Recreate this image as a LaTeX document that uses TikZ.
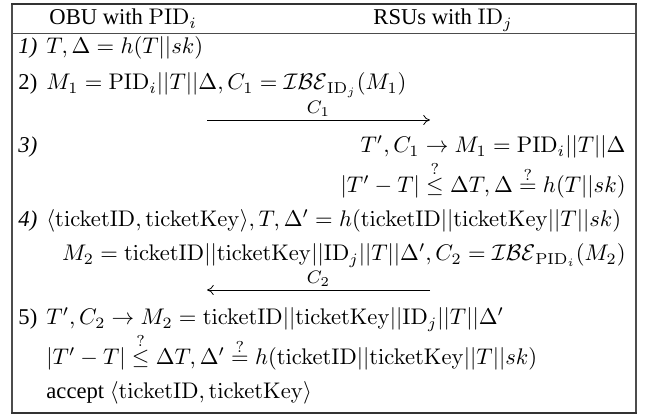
\documentclass[tikz,border=0pt]{standalone}
\usepackage{amsmath}
\usepackage[no-math]{fontspec}
\setmainfont{Liberation Serif}
\usetikzlibrary{arrows.meta}

\tikzset{
  lstep/.style={anchor=base west},
  rstep/.style={anchor=base east},
  msg/.style={-{To[length=3pt,width=4.5pt]}, line width=0.35pt},
  msglabel/.style={font=\footnotesize, above=1.5pt},
  frameline/.style={draw=black!80, line width=0.9pt},
  sideline/.style={draw=black!70, line width=0.6pt}
}

\begin{document}
\begin{tikzpicture}[x=0.4425pt,y=-0.4425pt,every node/.style={inner sep=0pt}]
			\useasboundingbox (0,0) rectangle (645,416);
			\fill[white] (0,0) rectangle (645,416);
			
			% frame of the table
			\draw[sideline] (12,4) -- (12,413);
			\draw[sideline] (636,4) -- (636,413);
			\draw[frameline] (11,4) -- (637,4);
			\draw[frameline] (11,413) -- (637,413);
			\draw[sideline,line width=0.45pt] (12,34) -- (636,34);
			
			% header
			\node[lstep] (obu) at (49,25) {OBU with $\mathrm{PID}_i$};
			\node[lstep] (rsu) at (373,25) {RSUs with $\mathrm{ID}_j$};
			
			% step 1 and 2
			\node[lstep] (n1) at (18,54) {\textit{1)}};
			\node[lstep] (s1) at (46,54) {$T,\Delta=h(T||sk)$};
			\node[lstep] (n2) at (18,90) {2)};
			\node[lstep] (s2) at (46,90) {$M_1=\mathrm{PID}_i||T||\Delta,C_1=\mathcal{IBE}_{\mathrm{ID}_j}(M_1)$};
			
			\coordinate (m1a) at (207,120);
			\coordinate (m1b) at (430,120);
			\draw[msg] (m1a) -- (m1b) node[midway,msglabel] (c1) {$C_1$};
			
			% step 3
			\node[lstep] (n3) at (18,153) {\textit{3)}};
			\node[rstep] (s3) at (626,153) {$T',C_1\rightarrow M_1=\mathrm{PID}_i||T||\Delta$};
			\node[rstep] (s3b) at (626,193) {$|T'-T|\overset{?}{\leq}\Delta T,\Delta\overset{?}{=}h(T||sk)$};
			
			% step 4
			\node[lstep] (n4) at (18,227) {\textit{4)}};
			\node[lstep] (s4) at (46,227) {$\langle\mathrm{ticketID},\mathrm{ticketKey}\rangle,T,\Delta'=h(\mathrm{ticketID}||\mathrm{ticketKey}||T||sk)$};
			\node[rstep] (s4b) at (626,261) {$M_2=\mathrm{ticketID}||\mathrm{ticketKey}||\mathrm{ID}_j||T||\Delta',C_2=\mathcal{IBE}_{\mathrm{PID}_i}(M_2)$};
			
			\coordinate (m2a) at (207,290);
			\coordinate (m2b) at (430,290);
			\draw[msg] (m2b) -- (m2a) node[midway,msglabel] (c2) {$C_2$};
			
			% step 5
			\node[lstep] (n5) at (18,325) {5)};
			\node[lstep] (s5) at (46,325) {$T',C_2\rightarrow M_2=\mathrm{ticketID}||\mathrm{ticketKey}||\mathrm{ID}_j||T||\Delta'$};
			\node[lstep] (s5b) at (46,365) {$|T'-T|\overset{?}{\leq}\Delta T,\Delta'\overset{?}{=}h(\mathrm{ticketID}||\mathrm{ticketKey}||T||sk)$};
			\node[lstep] (s5c) at (46,399) {accept $\langle\mathrm{ticketID},\mathrm{ticketKey}\rangle$};

	\end{tikzpicture}
\end{document}
